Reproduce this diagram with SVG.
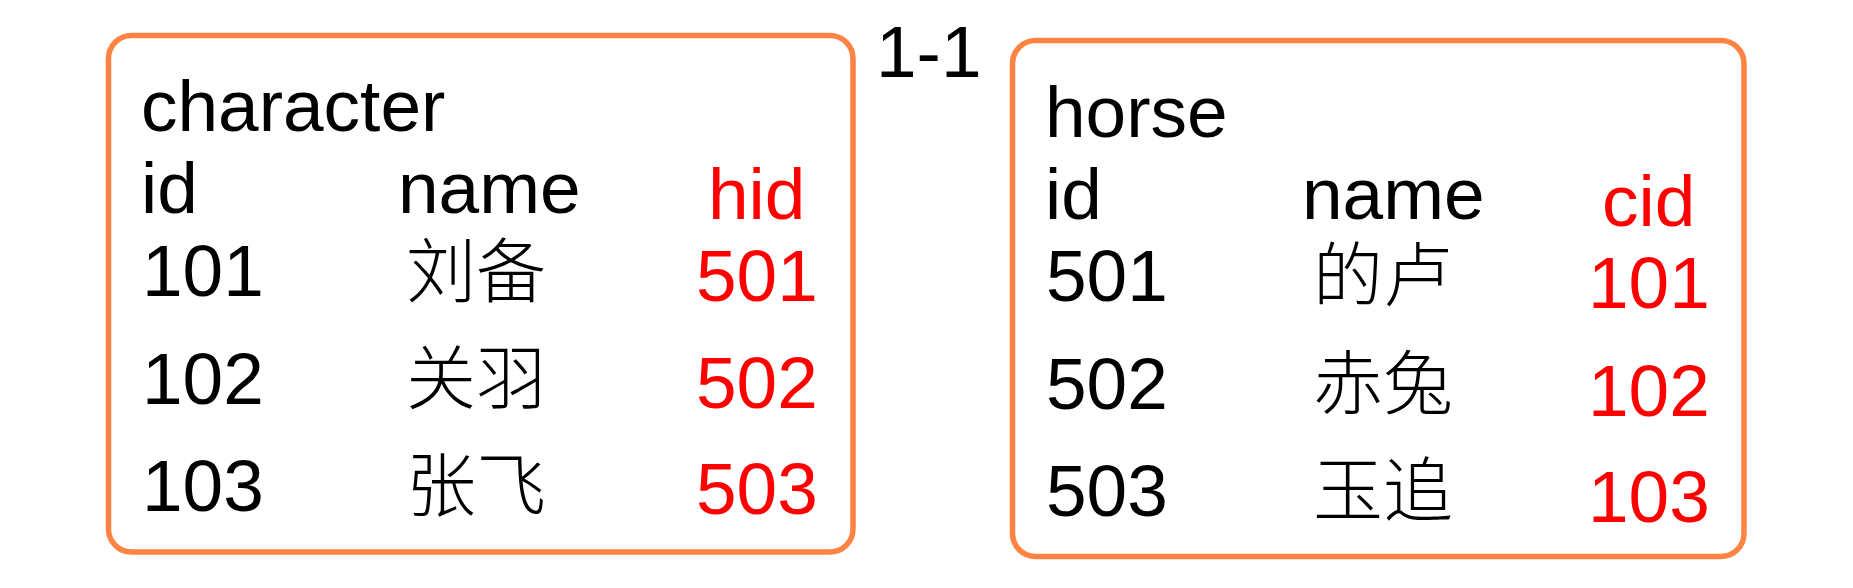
<svg xmlns="http://www.w3.org/2000/svg" width="1853" height="588" viewBox="0 0 1853 588">
<style>
.box{fill:#FFFFFF;stroke:#FF8444;stroke-width:5.5}
text{font-family:"Liberation Sans",Arial,"Noto Sans CJK SC",sans-serif;font-size:73px;fill:#000000}
.cn{font-family:"Noto Sans CJK SC","Liberation Sans",sans-serif;font-size:70px;font-weight:300}
.red{fill:#FF0000}
</style>
<rect width="1853" height="588" fill="#FFFFFF"/>
<g id="connectors">
<text id="rel-label" x="876" y="77">1-1</text>
</g>
<g id="character">
<rect class="box" x="108.5" y="35.5" width="744.5" height="516.5" rx="23" ry="23"/>
<text x="141" y="131">character</text>
<text x="141" y="213">id</text>
<text x="398" y="213">name</text>
<text class="red" x="708" y="219">hid</text>
<text x="142" y="296">101</text>
<text class="cn" x="406" y="297">刘备</text>
<text class="red" x="696" y="301">501</text>
<text x="142" y="404">102</text>
<text class="cn" x="406" y="404">关羽</text>
<text class="red" x="696" y="408">502</text>
<text x="142" y="511">103</text>
<text class="cn" x="406" y="511">张飞</text>
<text class="red" x="696" y="514">503</text>
</g>
<g id="horse">
<rect class="box" x="1012.5" y="40.5" width="731.5" height="516" rx="23" ry="23"/>
<text x="1045" y="137">horse</text>
<text x="1045" y="219">id</text>
<text x="1302" y="219">name</text>
<text class="red" x="1602" y="226">cid</text>
<text x="1046" y="301">501</text>
<text class="cn" x="1313" y="301">的卢</text>
<text class="red" x="1588" y="308">101</text>
<text x="1046" y="409">502</text>
<text class="cn" x="1313" y="409">赤兔</text>
<text class="red" x="1588" y="416">102</text>
<text x="1046" y="516">503</text>
<text class="cn" x="1313" y="516">玉追</text>
<text class="red" x="1588" y="522">103</text>
</g>
</svg>
